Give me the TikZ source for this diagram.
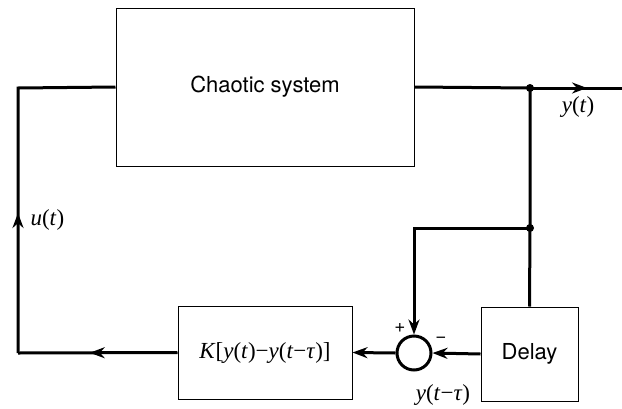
\documentclass[tikz,border=0pt]{standalone}
\usepackage{fontspec}
\setmainfont{Liberation Serif}
\newfontfamily\helv{TeX Gyre Heros}
\usetikzlibrary{arrows.meta,decorations.markings}
\tikzset{
  blk/.style={draw, line width=1pt, inner sep=0pt, font=\helv\fontsize{22}{26}\selectfont},
  sig/.style={line width=3pt, line join=miter},
  tip/.style={-{Stealth[length=15pt,width=11pt]}},
  midarrow/.style={postaction={decorate}, decoration={markings, mark=at position #1 with {\arrow{Stealth[length=15pt,width=11pt]}}}},
  dot/.style={circle, fill, inner sep=0pt, minimum size=8pt},
  lbl/.style={font=\fontsize{23}{26}\selectfont},
  sgn/.style={font=\helv\fontsize{19}{22}\selectfont},
}
\begin{document}
\begin{tikzpicture}[x=1pt,y=-1pt]
\useasboundingbox (0,0) rectangle (622,408);
\node[blk, minimum width=298pt, minimum height=158pt] (cs) at (265,87) {Chaotic system};
\node[blk, minimum width=174pt, minimum height=93pt] (K) at (265,352.5) {};
\node[lbl] (kl) at (K.center) {\textit{K}[\textit{y}(\textit{t})−\textit{y}(\textit{t}−\textit{τ})]};
\node[blk, minimum width=97pt, minimum height=94pt] (D) at (529.5,354) {Delay};
\node[circle, draw, line width=3pt, minimum size=34pt, inner sep=0pt] (S) at (414,353) {};
\node[dot] (j1) at (530,88) {};
\node[dot] (j2) at (530,228) {};
\coordinate (out) at (622,88);
\coordinate (tl) at (18,88);
\coordinate (bl) at (18,353);
\coordinate (c2) at (414,228);
% forward path
\draw[sig] (cs.east) -- (j1.center);
\draw[sig, midarrow=0.62] (j1.center) -- (out);
\draw[sig] (j1.center) -- (j2.center) -- (D.north);
\draw[sig, tip] (j2.center) -- (c2) -- (S.north);
\draw[sig, tip] (D.west) -- (S.east);
\draw[sig, tip] (S.west) -- (K.east);
\draw[sig, midarrow=0.55] (K.west) -- (bl);
\draw[sig, midarrow=140pt] (bl) -- (tl) -- (cs.west);
% labels
\node[lbl, anchor=west] (ul) at (27,220) {\textit{u}(\textit{t})};
\node[lbl] (yl) at (578,107) {\textit{y}(\textit{t})};
\node[lbl] (yd) at (443,395) {\textit{y}(\textit{t}−\textit{τ})};
\node[sgn] (plus) at (400,328) {+};
\node[sgn] (minus) at (441,340) {−};
\end{tikzpicture}
\end{document}
